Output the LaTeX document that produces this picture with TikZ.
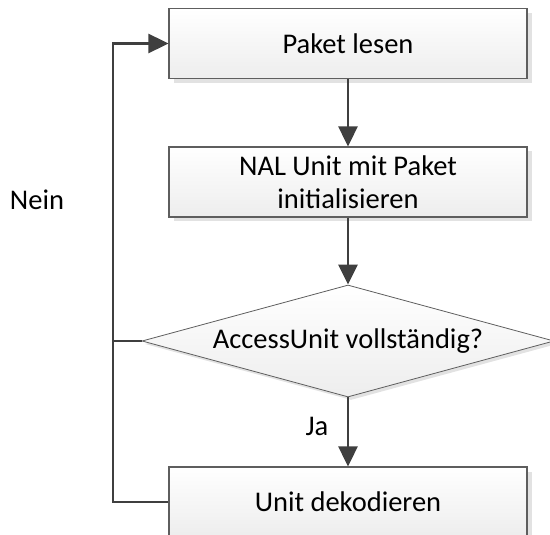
\documentclass[tikz,border=0pt]{standalone}
\usepackage{fontspec}
\setmainfont{Carlito}
\usetikzlibrary{shapes.geometric,arrows.meta,shadows}
\definecolor{conn}{HTML}{3F3F3F}
\definecolor{bord}{HTML}{5E5E5E}
\definecolor{shd}{HTML}{E2E2E2}
\tikzset{
  procbox/.style={rectangle, draw=bord, line width=1.1pt, top color=white, bottom color=black!7,
    minimum width=358pt, minimum height=70pt, inner sep=0pt, align=center,
    font=\fontsize{28.5}{33}\selectfont,
    drop shadow={shadow xshift=4.5pt, shadow yshift=-4.5pt, fill=shd, opacity=1}},
  decision/.style={diamond, draw=bord, line width=0.8pt, top color=white, bottom color=black!7,
    minimum width=412pt, minimum height=112pt, inner sep=0pt,
    drop shadow={shadow xshift=3pt, shadow yshift=-3pt, fill=shd, opacity=1}},
  lbl/.style={font=\fontsize{28.5}{33}\selectfont, inner sep=0pt},
  conn/.style={draw=conn, line width=2.7pt, -{Triangle[length=20pt,width=19pt]}},
  connplain/.style={draw=conn, line width=2.7pt}
}
\begin{document}
\begin{tikzpicture}[x=1pt,y=-1pt]
\useasboundingbox (0,0) rectangle (550,535);
\clip (0,0) rectangle (550,535);
\node[procbox] (b1) at (348,43.5) {Paket lesen};
\node[procbox] (b2) at (348,182) {NAL Unit mit Paket\\initialisieren};
\node[decision] (dec) at (348,341) {};
\node[lbl] (dect) at (dec.center) {AccessUnit vollständig?};
\node[procbox] (b3) at (348,502) {Unit dekodieren};
\coordinate (lt) at (113,43.5);
\coordinate (lm) at (113,341);
\coordinate (lb) at (113,502);
\node[lbl, anchor=base] (nein) at (37,209) {Nein};
\node[lbl, anchor=base] (ja) at (317,435) {Ja};
\draw[conn] (b1.south) -- (b2.north);
\draw[conn] (b2.south) -- (dec.north);
\draw[conn] (dec.south) -- (b3.north);
\draw[connplain] (dec.west) -- (lm);
\draw[conn, line join=miter] (b3.west) -- (lb) -- (lt) -- (b1.west);
\end{tikzpicture}
\end{document}
